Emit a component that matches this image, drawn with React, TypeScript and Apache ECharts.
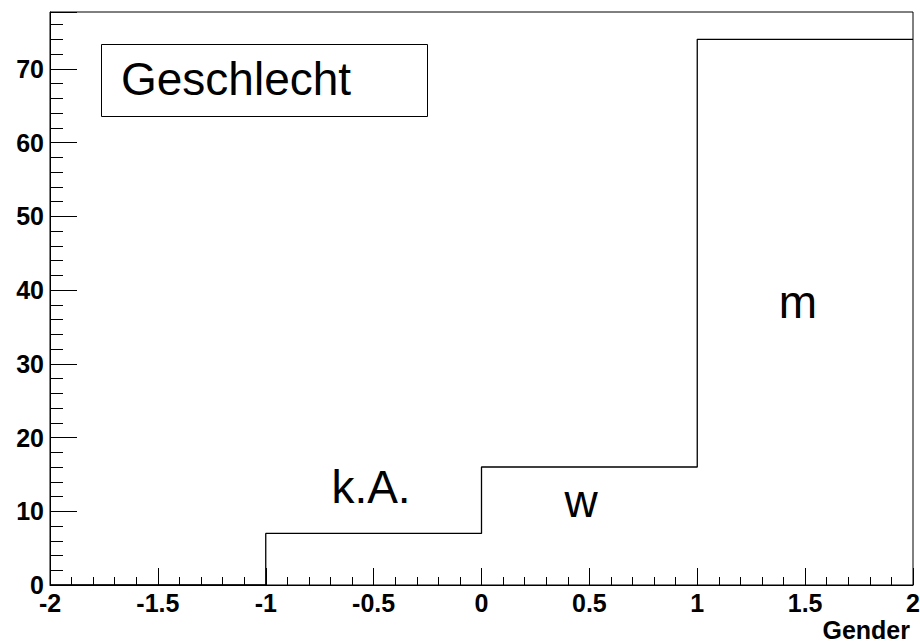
import React, { useEffect, useRef } from "react";
import * as echarts from "echarts";

// Histogram "Gender" (ROOT style)
const binEdges: number[] = [-2, -1, 0, 1, 2];
const counts: number[] = [0, 7, 16, 74];
const binLabels: string[] = ["", "k.A.", "w", "m"];
const legendTitle = "Geschlecht";
const xAxisTitle = "Gender";
const yMax = 77.7; // 1.05 * max count

const FONT = "'Liberation Sans', Arial, Helvetica, sans-serif";

export default function App() {
  const ref = useRef<HTMLDivElement>(null);
  useEffect(() => {
    if (!ref.current) return;
    const chart = echarts.init(ref.current, null, { renderer: "svg" });

    const stepData: [number, number][] = counts.map((c, i) => [binEdges[i], c]);
    stepData.push([binEdges[binEdges.length - 1], counts[counts.length - 1]]);

    const tickStyle = { color: "#000", width: 1 };

    chart.setOption({
      animation: false,
      backgroundColor: "#fff",
      grid: {
        left: 50,
        right: 7,
        top: 12,
        bottom: 58,
        show: true,
        borderColor: "#000",
        borderWidth: 1,
        backgroundColor: "transparent",
        containLabel: false,
        outerBoundsMode: "none",
      },
      xAxis: {
        type: "value",
        min: -2,
        max: 2,
        interval: 0.5,
        axisLine: { show: true, onZero: false, lineStyle: { color: "#000", width: 1 } },
        axisTick: { show: true, inside: true, length: 17, lineStyle: tickStyle },
        minorTick: { show: true, splitNumber: 5, length: 8, lineStyle: tickStyle },
        splitLine: { show: false },
        minorSplitLine: { show: false },
        axisLabel: {
          show: true,
          showMinLabel: true,
          showMaxLabel: true,
          margin: 8,
          lineHeight: 19,
          color: "#000",
          fontFamily: FONT,
          fontWeight: "bold",
          fontSize: 25,
        },
      },
      yAxis: [
        {
          type: "value",
          min: 0,
          max: yMax,
          interval: 2,
          position: "left",
          axisLine: { show: true, onZero: false, lineStyle: { color: "#000", width: 1 } },
          axisTick: { show: true, inside: true, length: 13, lineStyle: tickStyle },
          splitLine: { show: false },
          axisLabel: { show: false },
        },
        {
          type: "value",
          min: 0,
          max: yMax,
          interval: 10,
          position: "left",
          offset: 0,
          axisLine: { show: false, onZero: false },
          axisTick: { show: true, inside: true, length: 27, lineStyle: tickStyle },
          splitLine: { show: false },
          axisLabel: {
            show: true,
            margin: 6,
            lineHeight: 19,
            color: "#000",
            fontFamily: FONT,
            fontWeight: "bold",
            fontSize: 25,
            formatter: (v: number) => (Math.abs(v % 10) < 1e-6 ? String(Math.round(v)) : ""),
          },
        },
      ],
      series: [
        {
          type: "line",
          step: "end",
          yAxisIndex: 0,
          data: stepData,
          symbol: "none",
          lineStyle: { color: "#000", width: 1.3 },
          z: 5,
        },
      ],
      graphic: [
        {
          type: "rect",
          shape: { x: 101.5, y: 44.5, width: 326, height: 72 },
          style: { fill: "#fff", stroke: "#000", lineWidth: 1 },
          z: 10,
        },
        {
          type: "text",
          x: 121,
          y: 78.5,
          style: {
            text: legendTitle,
            fill: "#000",
            font: `46px ${FONT}`,
            textAlign: "left",
            textVerticalAlign: "middle",
          },
          z: 11,
        },
        {
          type: "text",
          x: 371,
          y: 487,
          style: {
            text: binLabels[1],
            fill: "#000",
            font: `46px ${FONT}`,
            textAlign: "center",
            textVerticalAlign: "middle",
          },
          z: 11,
        },
        {
          type: "text",
          x: 581,
          y: 501,
          style: {
            text: binLabels[2],
            fill: "#000",
            font: `46px ${FONT}`,
            textAlign: "center",
            textVerticalAlign: "middle",
          },
          z: 11,
        },
        {
          type: "text",
          x: 798,
          y: 302,
          style: {
            text: binLabels[3],
            fill: "#000",
            font: `46px ${FONT}`,
            textAlign: "center",
            textVerticalAlign: "middle",
          },
          z: 11,
        },
        {
          type: "text",
          x: 910,
          y: 630,
          style: {
            text: xAxisTitle,
            fill: "#000",
            font: `bold 25px ${FONT}`,
            textAlign: "right",
            textVerticalAlign: "middle",
          },
          z: 11,
        },
      ],
    });
    return () => chart.dispose();
  }, []);
  return (
    <div
      ref={ref}
      style={{ position: "fixed", left: 0, top: 0, width: 920, height: 643, background: "#fff" }}
    />
  );
}
